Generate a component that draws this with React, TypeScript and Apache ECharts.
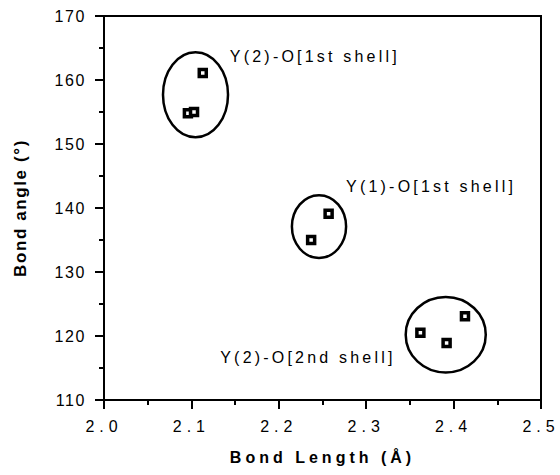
import React, { useEffect, useRef } from "react";
import * as echarts from "echarts";

// Y(2)-O [1st shell]
const shell1X = [2.113, 2.096, 2.103];
const shell1Y = [161.1, 154.8, 155.0];
// Y(1)-O [1st shell]
const shell2X = [2.257, 2.237];
const shell2Y = [139.1, 135.0];
// Y(2)-O [2nd shell]
const shell3X = [2.362, 2.392, 2.413];
const shell3Y = [120.5, 118.9, 123.1];

const groupNames = ["Y(2)-O[1st shell]", "Y(1)-O[1st shell]", "Y(2)-O[2nd shell]"];
const groupLabelX = [2.144, 2.277, 2.133];
const groupLabelY = [163.6, 143.3, 116.6];

const ellipseCX = [2.1047, 2.246, 2.391];
const ellipseCY = [157.7, 137.1, 120.2];
const ellipseRX = [0.0372, 0.031, 0.0458];
const ellipseRY = [6.64, 4.9, 5.9];

const xMin = 2.0, xMax = 2.5, xStep = 0.1;
const yMin = 110, yMax = 170, yStep = 10;

const css = `
#chartbox text[style*="Arial"], #chartbox text[font-family*="Arial"] { letter-spacing: 5px; }
#chartbox text[style*="Helvetica"], #chartbox text[font-family*="Helvetica"] { letter-spacing: 3.2px; }
#chartbox text[style*="Helvetica Neue"], #chartbox text[font-family*="Helvetica Neue"] { letter-spacing: 4px; }
#chartbox text[style*="Nimbus"], #chartbox text[font-family*="Nimbus"] { letter-spacing: 1.6px; }
#chartbox text[style*="Arimo"], #chartbox text[font-family*="Arimo"] { letter-spacing: 1.6px; }
`;

export default function App() {
  const ref = useRef<HTMLDivElement>(null);
  useEffect(() => {
    if (!ref.current) return;
    const chart = echarts.init(ref.current, undefined, { renderer: "svg" });
    const mk = (xs: number[], ys: number[]) => xs.map((x, i) => [x, ys[i]]);
    const markerStyle = {
      type: "scatter",
      symbol: "rect",
      symbolSize: 7,
      itemStyle: { color: "#fff", borderColor: "#000", borderWidth: 3.5, opacity: 1 },
      z: 5,
    };
    const tickFont = "Arial, 'Liberation Sans', sans-serif";
    chart.setOption({
      animation: false,
      backgroundColor: "#fff",
      grid: {
        left: 104,
        right: 19,
        top: 16,
        bottom: 75,
        show: true,
        borderColor: "#000",
        borderWidth: 2,
      },
      xAxis: {
        type: "value",
        min: xMin,
        max: xMax,
        interval: xStep,
        name: "Bond Length (Å)",
        nameLocation: "middle",
        nameGap: 49,
        nameTextStyle: {
          color: "#000",
          fontSize: 16,
          fontWeight: "bold",
          fontFamily: "'Helvetica Neue', 'Liberation Sans', sans-serif",
        },
        axisLine: { lineStyle: { color: "#000", width: 2 } },
        axisTick: { show: true, inside: false, length: 9, lineStyle: { color: "#000", width: 2 } },
        minorTick: { show: true, splitNumber: 2, length: 5, lineStyle: { color: "#000", width: 2 } },
        splitLine: { show: false },
        axisLabel: {
          color: "#000",
          fontSize: 16,
          fontFamily: tickFont,
          margin: 18,
          formatter: (v: number) => v.toFixed(1),
        },
      },
      yAxis: {
        type: "value",
        min: yMin,
        max: yMax,
        interval: yStep,
        name: "Bond angle (°)",
        nameLocation: "middle",
        nameRotate: 90,
        nameGap: 75,
        nameTextStyle: {
          color: "#000",
          fontSize: 17,
          fontWeight: "bold",
          fontFamily: "'Nimbus Sans', 'Liberation Sans', sans-serif",
        },
        axisLine: { lineStyle: { color: "#000", width: 2 } },
        axisTick: { show: true, inside: false, length: 9, lineStyle: { color: "#000", width: 2 } },
        minorTick: { show: true, splitNumber: 2, length: 5, lineStyle: { color: "#000", width: 2 } },
        splitLine: { show: false },
        axisLabel: {
          color: "#000",
          fontSize: 16,
          fontFamily: "Arimo, 'Liberation Sans', sans-serif",
          margin: 18,
        },
      },
      series: [
        {
          type: "custom",
          name: "ellipses",
          clip: false,
          z: 3,
          encode: { x: 0, y: 1 },
          data: ellipseCX.map((x, i) => [x, ellipseCY[i], ellipseRX[i], ellipseRY[i]]),
          renderItem: (_p: any, api: any) => {
            const c = api.coord([api.value(0), api.value(1)]);
            const s = api.size([api.value(2), api.value(3)]);
            return {
              type: "ellipse",
              shape: { cx: c[0], cy: c[1], rx: s[0], ry: s[1] },
              style: { fill: "none", stroke: "#000", lineWidth: 2.5 },
            };
          },
        },
        {
          type: "custom",
          name: "labels",
          clip: false,
          z: 4,
          encode: { x: 0, y: 1 },
          data: groupLabelX.map((x, i) => [x, groupLabelY[i], i]),
          renderItem: (_p: any, api: any) => {
            const c = api.coord([api.value(0), api.value(1)]);
            const idx = api.value(2);
            return {
              type: "text",
              x: c[0],
              y: c[1],
              style: {
                text: groupNames[idx],
                fill: "#000",
                fontSize: 16,
                fontFamily: "Helvetica, 'Liberation Sans', sans-serif",
                align: "left",
                verticalAlign: "middle",
              },
            };
          },
        },
        { ...markerStyle, name: groupNames[0], data: mk(shell1X, shell1Y) },
        { ...markerStyle, name: groupNames[1], data: mk(shell2X, shell2Y) },
        { ...markerStyle, name: groupNames[2], data: mk(shell3X, shell3Y) },
      ],
    });
    return () => chart.dispose();
  }, []);
  return (
    <>
      <style>{css}</style>
      <div
        id="chartbox"
        ref={ref}
        style={{ position: "fixed", left: 0, top: 0, width: 560, height: 475 }}
      />
    </>
  );
}
